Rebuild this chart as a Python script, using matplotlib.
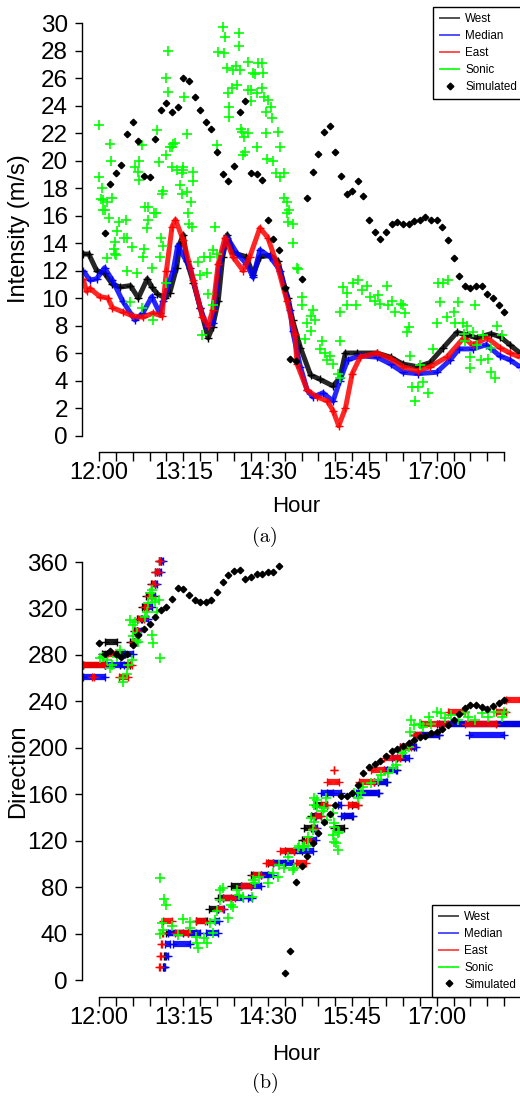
import matplotlib.pyplot as plt
from matplotlib.lines import Line2D

plt.rcParams.update({
    'font.family': ['Liberation Sans', 'DejaVu Sans'],
    'font.size': 17,
    'axes.linewidth': 1.0,
    'lines.solid_capstyle': 'butt',
})

# time axis in minutes after 12:00
hour_ticks = list(range(0, 361, 15))
hour_labels = {0: '12:00', 75: '13:15', 150: '14:30', 225: '15:45', 300: '17:00'}

# -------------------------------------------------------------
# (a) wind intensity (m/s)
# -------------------------------------------------------------
west_int_t = [-14, -9, -2, 5, 12, 19, 28, 35, 43, 47, 52, 59, 63, 69, 72, 75, 78, 84, 90, 97,
              101, 106, 110, 114, 119, 131, 137, 143, 152, 159, 165, 168, 172, 179, 188, 196, 208, 214, 219, 229,
              247, 259, 270, 283, 294, 306, 318, 327, 336, 348, 356, 365, 374]
west_int_v = [13.2, 13.2, 12.0, 11.8, 11.0, 10.8, 10.9, 10.0, 11.4, 10.8, 10.3, 10.0, 10.4, 12.2, 14.0, 14.6, 12.7, 11.1, 9.3, 7.1,
              7.9, 9.8, 13.0, 14.6, 13.3, 13.0, 11.7, 13.0, 13.1, 12.7, 10.8, 10.0, 8.4, 6.4, 4.4, 4.1, 3.6, 4.2, 6.0, 6.0,
              6.0, 5.7, 5.2, 5.0, 5.3, 6.4, 7.5, 7.3, 7.1, 7.4, 7.2, 6.6, 6.0]

med_int_t = [-14, -8, -2, 5, 12, 21, 32, 39, 47, 54, 57, 66, 70, 81, 90, 96, 101, 107, 114, 123,
             131, 137, 143, 152, 161, 170, 172, 179, 185, 190, 199, 208, 214, 221, 232, 247, 259, 270, 283, 300,
             312, 320, 332, 344, 356, 365, 374]
med_int_v = [12.0, 11.3, 11.4, 12.2, 11.3, 9.8, 8.4, 8.9, 10.1, 8.9, 9.8, 12.0, 13.8, 12.2, 9.3, 7.9, 8.2, 12.5, 14.4, 13.2,
             12.5, 11.5, 13.5, 13.0, 12.0, 9.1, 7.6, 5.0, 3.3, 2.8, 3.1, 2.5, 4.0, 5.5, 5.8, 5.7, 5.2, 4.6, 4.5, 4.6,
             5.5, 6.3, 6.3, 6.6, 5.8, 5.5, 5.0]

east_int_t = [-14, -11, -8, 1, 8, 12, 21, 30, 39, 48, 56, 60, 65, 68, 75, 84, 92, 97, 101, 106,
              112, 119, 128, 134, 143, 150, 158, 167, 174, 176, 185, 194, 203, 208, 213, 219, 225, 232, 247, 259,
              270, 283, 294, 309, 324, 332, 345, 356, 365, 374]
east_int_v = [11.4, 10.5, 10.7, 10.1, 10.0, 9.3, 9.0, 8.7, 8.6, 8.9, 8.7, 12.0, 15.2, 15.7, 14.2, 11.3, 8.6, 8.0, 9.1, 12.5,
              14.4, 13.0, 12.0, 13.0, 15.1, 14.4, 12.5, 9.8, 7.4, 5.2, 3.3, 2.8, 2.5, 1.8, 0.7, 2.0, 4.5, 5.7, 6.0, 5.6,
              5.0, 4.7, 5.0, 5.7, 7.1, 6.6, 7.1, 6.4, 6.0, 5.7]

sonic_int_t = [0, 0, 3, 2, 4, 7, 4, 5, 9, 10, 11, 12, 16, 14, 13, 15, 18, 24, 22, 25, 29, 32, 36, 35, 36, 38, 41, 44, 44, 43,
               40, 39, 49, 51, 52, 53, 55, 56, 57, 57, 60, 60, 61, 61, 63, 65, 68, 66, 65, 69, 75, 75, 74, 76, 78, 72, 74, 78, 79, 82,
               80, 83, 84, 84, 93, 101, 103, 105, 106, 110, 112, 111, 114, 115, 116, 116, 118, 119, 123, 122, 124, 124, 125, 126, 127, 128, 129, 130, 132, 132,
               132, 135, 135, 137, 139, 140, 141, 140, 145, 146, 145, 147, 150, 153, 148, 154, 148, 159, 161, 149, 155, 157, 164, 161, 164, 167, 169, 167, 168, 172,
               172, 176, 7, 14, 25, 34, 28, 38, 47, 48, 54, 60, 88, 90, 96, 97, 92, 101, 99, 105,
               177, 180, 180, 185, 188, 190, 192, 188, 183, 198, 196, 201, 205, 203, 208, 214, 212, 214,
               217, 220, 226, 230, 234, 238, 214, 220, 228, 241, 245, 248, 250, 256, 257, 260, 263, 268, 272, 270, 275, 274, 276,
               278, 283, 281, 288, 292, 285, 297, 300, 303, 301, 306, 310, 309, 315, 319, 316, 323, 327, 325, 330, 330, 332, 334, 336,
               339, 341, 346, 348, 352, 354, 348, 358, 324]
sonic_int_v = [22.6, 18.8, 18.0, 17.2, 17.1, 17.0, 16.4, 16.4, 15.8, 21.2, 20.0, 17.3, 14.9, 14.1, 13.6, 13.1, 15.5, 15.7, 14.4, 14.4, 13.7, 19.5, 20.0, 19.2, 18.6, 21.1, 16.6, 16.6, 15.7, 15.1,
               13.6, 13.0, 16.2, 16.2, 22.2, 19.9, 14.4, 17.6, 17.8, 13.8, 20.4, 26.0, 25.0, 28.0, 21.0, 21.0, 21.3, 21.2, 19.5, 19.3, 19.3, 19.5, 19.1, 24.6, 21.9, 18.2, 17.6, 17.7, 16.2, 17.0,
               15.4, 15.2, 19.2, 18.5, 13.0, 13.5, 15.2, 21.1, 27.9, 29.7, 29.0, 27.8, 26.7, 24.9, 23.9, 23.2, 25.3, 26.6, 25.5, 26.9, 29.3, 28.3, 26.6, 22.3, 22.1, 20.4, 21.7, 20.6, 22.0, 27.2,
               25.1, 25.1, 24.3, 26.4, 26.3, 24.9, 27.1, 21.0, 27.1, 26.4, 25.3, 24.6, 24.4, 23.9, 23.5, 23.1, 22.0, 22.1, 21.0, 20.1, 20.0, 19.1, 19.1, 18.8, 17.3, 17.0, 16.4, 16.2, 15.5, 15.4,
               14.0, 12.2, 12.9, 13.2, 12.0, 11.8, 9.7, 9.3, 12.2, 8.4, 13.0, 11.1, 12.6, 11.7, 11.8, 10.3, 7.3, 9.5, 13.0, 13.2,
               12.1, 10.1, 9.5, 8.2, 8.7, 9.1, 8.4, 7.6, 7.0, 6.9, 6.3, 6.0, 5.8, 5.5, 5.2, 6.9, 4.5, 4.2,
               10.8, 10.4, 11.1, 11.3, 10.6, 10.9, 9.0, 9.5, 9.5, 10.1, 9.8, 10.2, 9.6, 10.9, 9.5, 9.8, 9.0, 9.6, 8.9, 9.5, 7.9, 7.5, 5.8,
               3.5, 3.5, 2.5, 3.9, 3.1, 5.1, 6.3, 8.2, 9.7, 11.1, 11.1, 11.3, 8.6, 9.0, 9.7, 8.2, 8.2, 8.0, 6.9, 5.7, 4.9, 7.5, 9.5, 6.6,
               5.5, 7.3, 5.6, 4.6, 4.2, 8.0, 6.4, 7.3, 7.4]

sim_int_t = list(range(5, 361, 5))
sim_int_v = [14.7, 18.3, 19.1, 19.7, 21.9, 22.8, 21.4, 18.9, 18.8, 21.6,
             23.7, 24.2, 23.5, 23.9, 26.0, 25.8, 24.6, 23.7, 22.8, 22.3,
             20.6, 19.0, 18.5, 19.6, 23.5, 24.3, 19.1, 19.0, 18.6, 15.7,
             14.3, 13.5, 10.7, 5.6, 5.4, 11.4, 17.3, 19.2, 20.5, 22.1,
             22.5, 20.6, 18.9, 17.6, 17.8, 18.5, 17.4, 15.7, 14.8, 14.3,
             14.8, 15.4, 15.5, 15.4, 15.4, 15.6, 15.7, 15.9, 15.7, 15.7,
             15.2, 14.2, 12.9, 11.6, 10.9, 10.7, 10.9, 10.9, 10.3, 10.0,
             9.5, 9.0]

# -------------------------------------------------------------
# (b) wind direction (deg); anemometer runs are (start, end, level)
# -------------------------------------------------------------
west_dir_runs = [(-14, 5, 271), (3, 7, 281), (5, 16, 291), (16, 23, 281), (19, 28, 271), (28, 31, 291), (31, 34, 301),
                 (34, 38, 311), (38, 42, 321), (42, 46, 331), (46, 50, 341), (50, 53, 351), (53, 55, 361), (57, 58, 11),
                 (58, 60, 21), (60, 86, 41), (86, 96, 51), (98, 106, 61), (106, 117, 71), (117, 135, 81), (135, 150, 91),
                 (150, 165, 101), (165, 180, 111), (180, 182, 121), (182, 188, 131), (188, 192, 141), (192, 203, 151),
                 (203, 208, 161), (209, 218, 131), (218, 225, 141), (225, 230, 151), (230, 248, 161), (248, 256, 171),
                 (256, 265, 181), (265, 272, 191), (272, 280, 201), (280, 302, 211), (302, 376, 221)]

med_dir_runs = [(-14, 5, 261), (5, 22, 271), (22, 30, 281), (30, 34, 291), (34, 37, 301), (37, 44, 311), (44, 47, 321),
                (47, 50, 331), (50, 52, 341), (52, 55, 351), (55, 57, 361), (58, 59, 11), (59, 61, 21), (59, 63, 31),
                (61, 75, 41), (66, 81, 31), (79, 90, 41), (95, 106, 41), (103, 107, 51), (106, 111, 61), (110, 128, 71),
                (132, 136, 71), (126, 144, 81), (144, 155, 91), (155, 172, 101), (173, 190, 111), (188, 193, 121),
                (191, 194, 131), (193, 197, 141), (197, 215, 161), (212, 215, 151), (215, 226, 141), (228, 249, 161),
                (244, 255, 171), (253, 264, 181), (260, 275, 191), (267, 282, 201), (280, 302, 211), (300, 376, 221),
                (329, 360, 211)]

east_dir_runs = [(-14, 5, 271), (-6, -4, 261), (7, 16, 281), (18, 26, 261), (25, 29, 271), (29, 32, 291), (32, 35, 301),
                 (35, 40, 311), (40, 44, 321), (44, 47, 331), (47, 50, 341), (50, 53, 351), (53, 54, 361), (53, 54, 11),
                 (54, 55, 21), (55, 56, 31), (56, 57, 41), (57, 65, 51), (68, 79, 41), (86, 94, 51), (105, 110, 61),
                 (110, 121, 71), (126, 135, 81), (137, 144, 91), (148, 155, 101), (161, 173, 111), (175, 184, 101),
                 (184, 188, 121), (189, 192, 131), (192, 197, 141), (197, 203, 151), (203, 213, 171), (209, 209, 181),
                 (221, 230, 151), (231, 244, 171), (242, 253, 181), (253, 267, 191), (267, 277, 201), (280, 286, 211),
                 (286, 310, 221), (310, 325, 231), (325, 353, 221), (353, 362, 231), (362, 376, 241)]

sonic_dir_t = [45, 47, 44, 50, 43, 41, 52, 28, 30, 30, 33, 35, 34, 47, 48, 54, 19, 16, 12, 4, 1, 21, 21, 25, 26, 29, 32, 7, 10, 53, 47,
               54, 58, 60, 56, 57, 54, 65, 70, 75, 81, 81, 86, 88, 87, 93, 96, 99, 101, 103, 105, 108, 108, 110, 115, 117, 119, 123, 124, 128,
               136, 137, 142, 139, 150, 155, 159, 160, 164, 168, 172, 173, 177, 178, 182, 186, 190, 191, 191, 194, 191, 200, 208, 209, 212, 209, 212,
               181, 186, 188, 194, 202, 199, 203, 209, 208, 211, 213, 227, 230, 233, 235, 242, 248, 251, 257, 261, 264, 269, 271, 275,
               277, 280, 276, 285, 288, 293, 295, 300, 304, 307, 313, 319, 325, 328, 334, 340, 346, 351, 358, 360]
sonic_dir_v = [333, 329, 325, 326, 317, 313, 317, 310, 306, 296, 293, 291, 299, 297, 290, 277, 284, 278, 271, 278, 277, 257, 260, 264, 271, 276, 308, 276, 269, 327, 336,
               88, 70, 65, 49, 43, 40, 47, 39, 53, 50, 45, 37, 28, 32, 36, 32, 49, 41, 52, 60, 69, 78, 79, 54, 65, 63, 78, 73, 72,
               72, 86, 89, 84, 84, 92, 89, 99, 97, 106, 95, 97, 114, 116, 116, 116, 129, 136, 151, 155, 157, 148, 144, 135, 127, 119, 112,
               115, 123, 140, 149, 157, 146, 138, 132, 125, 118, 128, 161, 157, 161, 166, 170, 172, 177, 178, 183, 185, 196, 198, 201,
               224, 220, 214, 221, 218, 227, 221, 231, 230, 226, 228, 224, 231, 227, 224, 230, 227, 231, 227, 231]

sim_dir_t = list(range(0, 361, 5))
sim_dir_v = [290, 281, 283, 281, 278, 281, 289, 297, 302, 307,
             313, 319, 321, 328, 338, 337, 332, 327, 326, 326,
             327, 334, 343, 349, 352, 353, 345, 347, 350, 350,
             351, 351, 357, 6, 25, 85, 98, 107, 118, 126.5,
             136.5, 143, 151, 158.5, 158.5, 161, 168.5, 178, 184, 186.5,
             188.5, 193, 197, 199, 202, 204.5, 207, 209.5, 210, 212.5,
             214, 216, 219.5, 224, 229.5, 234.5, 237, 237, 235, 233.5,
             236, 239, 241]

SONIC_GREEN = '#00ff00'


def plot_curve(ax, t, v, color):
    ax.plot(t, v, color=color, lw=3.6, alpha=0.85)
    ax.plot(t, v, '+', color=color, ms=5.5, mew=1.0, ls='none')


def plot_runs(ax, runs, color):
    t0 = [r[0] for r in runs]
    t1 = [r[1] for r in runs]
    lev = [r[2] for r in runs]
    ax.hlines(lev, t0, t1, colors=color, lw=4.5, alpha=0.9)
    ax.plot(t0 + t1, lev + lev, '+', color=color, ms=5.5, mew=1.0, ls='none')


def style_axis(ax, ymax, ystep):
    ax.set_xlim(-15, 390)
    ax.set_ylim(-0.04 * ymax, 1.04 * ymax)
    for side in ['top', 'right']:
        ax.spines[side].set_visible(False)
    ax.spines['left'].set_bounds(0, ymax)
    ax.spines['bottom'].set_bounds(0, 360)
    ax.set_xticks(hour_ticks)
    ax.set_xticklabels([hour_labels.get(t, '') for t in hour_ticks])
    ax.set_yticks(range(0, ymax + 1, ystep))
    ax.tick_params(axis='x', length=6.5, width=1.0, pad=1, labelsize=17)
    ax.tick_params(axis='y', length=5, width=1.0, pad=5, labelsize=17.5)
    ax.patch.set_alpha(0)


def add_legend(fig, anchor, loc):
    handles = [
        Line2D([0], [0], color='black', lw=1.2, alpha=0.8, label='West'),
        Line2D([0], [0], color='blue', lw=1.2, alpha=0.8, label='Median'),
        Line2D([0], [0], color='red', lw=1.2, alpha=0.8, label='East'),
        Line2D([0], [0], color=SONIC_GREEN, lw=1.2, label='Sonic'),
        Line2D([0], [0], color='black', marker='D', ms=3.4, ls='none', label='Simulated'),
    ]
    leg = fig.legend(handles=handles, loc=loc, bbox_to_anchor=anchor, bbox_transform=fig.transFigure,
                     fontsize=8.4, handlelength=1.75, handletextpad=0.45, borderpad=0.55,
                     labelspacing=0.42, borderaxespad=0, frameon=True, fancybox=False,
                     edgecolor='black', framealpha=1)
    leg.get_frame().set_linewidth(1.0)


W, H = 520, 1098
fig = plt.figure(figsize=(W / 100, H / 100), dpi=100)

# panel (a)
ax1 = fig.add_axes([82 / W, 1 - 452 / H, 456 / W, 445.4 / H])
plot_curve(ax1, west_int_t, west_int_v, 'black')
plot_curve(ax1, med_int_t, med_int_v, 'blue')
plot_curve(ax1, east_int_t, east_int_v, 'red')
ax1.plot(sonic_int_t, sonic_int_v, '+', color=SONIC_GREEN, ms=6.5, mew=1.2, ls='none')
ax1.plot(sim_int_t, sim_int_v, 'D', color='black', ms=3.3, ls='none')
style_axis(ax1, 30, 2)
add_legend(fig, (433 / W, 1 - 6.6 / H), 'upper left')

fig.text(19 / W, 1 - 229 / H, 'Intensity (m/s)', rotation=90, ha='center', va='center', fontsize=17)
fig.text(296 / W, 1 - 507 / H, 'Hour', ha='center', va='center', fontsize=16)
fig.text(265 / W, 1 - 537 / H, '(a)', ha='center', va='center', fontsize=14.5, family='cmr10')

# panel (b)
ax2 = fig.add_axes([82 / W, 1 - 997 / H, 456 / W, 451.7 / H])
plot_runs(ax2, west_dir_runs, 'black')
plot_runs(ax2, med_dir_runs, 'blue')
plot_runs(ax2, east_dir_runs, 'red')
ax2.plot(sonic_dir_t, sonic_dir_v, '+', color=SONIC_GREEN, ms=6.5, mew=1.2, ls='none')
ax2.plot(sim_dir_t, sim_dir_v, 'D', color='black', ms=3.3, ls='none')
style_axis(ax2, 360, 40)
add_legend(fig, (432 / W, 1 - 997 / H), 'lower left')

fig.text(18 / W, 1 - 771 / H, 'Direction', rotation=90, ha='center', va='center', fontsize=17)
fig.text(296 / W, 1 - 1054 / H, 'Hour', ha='center', va='center', fontsize=16)
fig.text(265 / W, 1 - 1083 / H, '(b)', ha='center', va='center', fontsize=14.5, family='cmr10')

fig.savefig('out.png', dpi=100)
